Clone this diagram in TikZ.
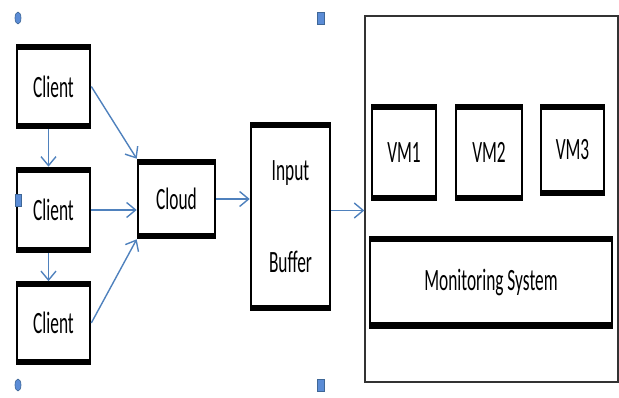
\documentclass[tikz,border=0pt]{standalone}
\usepackage{fontspec}
\newfontfamily\boxfont{Carlito}[FakeStretch=0.56]
\usetikzlibrary{arrows.meta,shapes.geometric}
\definecolor{linkblue}{RGB}{79,129,189}
\definecolor{handleblue}{RGB}{91,140,214}
\tikzset{unit/.style={draw,line width=2.6pt,inner sep=0pt,align=center,
		font={\boxfont\fontsize{31}{34}\selectfont},
		path picture={\draw[line width=10pt]
			(path picture bounding box.north west) -- (path picture bounding box.north east)
			(path picture bounding box.south west) -- (path picture bounding box.south east);}},
	link/.style={draw=linkblue,line width=1.4pt,-{Straight Barb[length=9pt,width=15pt]}},
	handle/.style={fill=handleblue,draw=linkblue!80!black,line width=0.6pt,
		inner sep=0pt,minimum width=6pt,minimum height=12pt}}

\begin{document}
\begin{tikzpicture}[x=1pt,y=-1pt]
\useasboundingbox (0,0) rectangle (619,398);
% clients on the left
\node [unit,minimum width=73pt,minimum height=83pt] (c1) at (53.5,86.5) {Client};
\node [unit,minimum width=73pt,minimum height=84pt] (c2) at (53.5,210) {Client};
\node [unit,minimum width=73pt,minimum height=81pt] (c3) at (53.5,323) {Client};
\node [unit,minimum width=77pt,minimum height=78pt] (cloud) at (176.5,199) {Cloud};
\node [unit,minimum width=79pt,minimum height=187pt] (buf) at (290.5,216.5) {Input\\[58pt]Buffer};
% host with the machines
\node [draw=black!80,line width=1.4pt,minimum width=253pt,minimum height=366pt] (host) at (491.5,199) {};
\node [unit,minimum width=64pt,minimum height=95pt] (vm1) at (404,152.5) {VM1};
\node [unit,minimum width=66pt,minimum height=95pt] (vm2) at (489,152.5) {VM2};
\node [unit,minimum width=63pt,minimum height=90pt] (vm3) at (572.5,150) {VM3};
\node [unit,minimum width=242pt,minimum height=90pt] (mon) at (491,282.5) {Monitoring System};
\coordinate (bufout) at ([yshift=6pt]buf.east);
\draw [link] ([xshift=-5pt]c1.south) -- ([xshift=-5pt]c2.north);
\draw [link] ([xshift=-5pt]c2.south) -- ([xshift=-5pt]c3.north);
\draw [link] (c1.east) -- (cloud.north west);
\draw [link] (c2.east) -- (c2.east -| cloud.west);
\draw [link] (c3.east) -- (cloud.south west);
\draw [link] (cloud.east) -- (cloud.east -| buf.west);
\draw [link] (bufout) -- (bufout -| host.west);
% selection handles
\node [handle,ellipse] (h1) at (18,18) {};
\node [handle,minimum width=7pt] (h2) at (321,18) {};
\node [handle] (h3) at (18,200) {};
\node [handle,ellipse] (h4) at (18,385) {};
\node [handle,minimum width=7pt] (h5) at (321,385) {};
\end{tikzpicture}
\end{document}
